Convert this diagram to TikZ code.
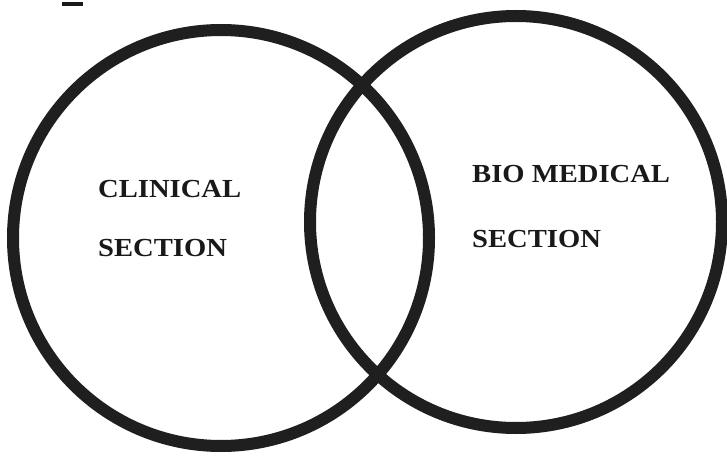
\documentclass[tikz,border=0pt]{standalone}
\usepackage{fontspec}
\setmainfont{Liberation Serif}[FakeStretch=1.1]
\begin{document}
\begin{tikzpicture}[x=1pt,y=1pt,
  ring/.style={draw=black!88,line width=12pt},
  lbl/.style={anchor=base west,inner sep=0pt,font=\fontsize{26}{30}\selectfont\bfseries,text=black!90}]
\useasboundingbox[fill=white] (0,0) rectangle (727,458);
\node[ring,circle,minimum size=416pt,inner sep=0pt] (left) at (221,220) {};
\node[ring,circle,minimum size=412pt,inner sep=0pt] (right) at (516,236) {};
\node[lbl] (clin) at (98,260) {CLINICAL};
\node[lbl] (sec1) at (98,201) {SECTION};
\node[lbl] (bio) at (472,275) {BIO MEDICAL};
\node[lbl] (sec2) at (472,210) {SECTION};
\coordinate (d1) at (62,453.5);
\coordinate (d2) at (83,453.5);
\draw[black!90,line width=4pt] (d1) -- (d2);
\end{tikzpicture}
\end{document}
